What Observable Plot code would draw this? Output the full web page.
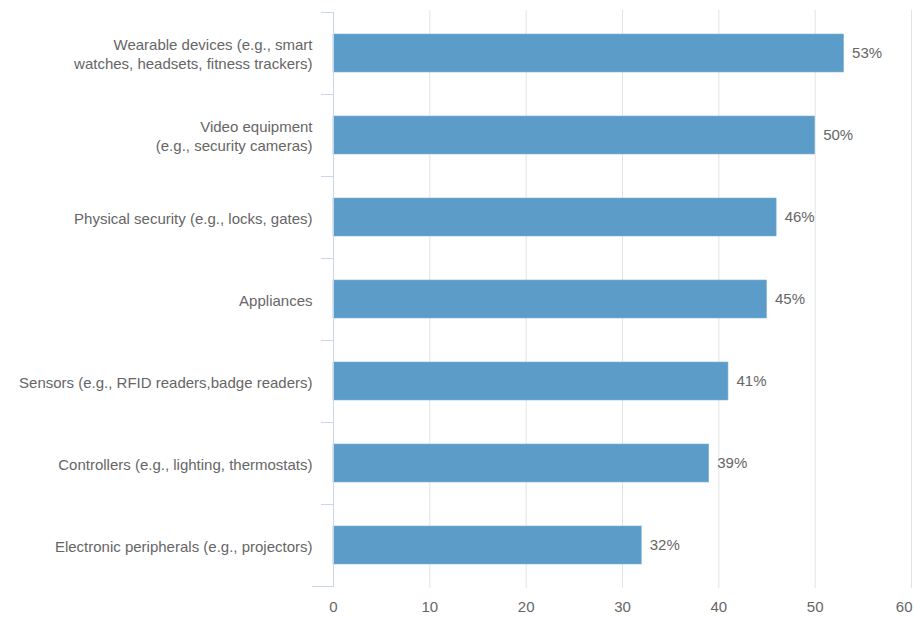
<!DOCTYPE html>
<html>
<head>
<meta charset="utf-8">
<script src="https://cdn.jsdelivr.net/npm/d3@7"></script>
<script src="https://cdn.jsdelivr.net/npm/@observablehq/plot@0.6"></script>
<style>
  html, body { margin: 0; padding: 0; background: #fff; }
  #chart { width: 914px; height: 617px; }
  svg { font-family: "Liberation Sans", Arial, sans-serif; }
</style>
</head>
<body>
<div id="chart"></div>
<script>
const categories = [
  "Wearable devices (e.g., smart\nwatches, headsets, fitness trackers)",
  "Video equipment\n(e.g., security cameras)",
  "Physical security (e.g., locks, gates)",
  "Appliances",
  "Sensors (e.g., RFID readers,badge readers)",
  "Controllers (e.g., lighting, thermostats)",
  "Electronic peripherals (e.g., projectors)"
];
const values = [53, 50, 46, 45, 41, 39, 32];
const xTicks = [0, 10, 20, 30, 40, 50, 60];

const data = categories.map((c, i) => ({category: c, value: values[i]}));

// Tick marks between categories (band boundaries), drawn from the band scale
function bandBoundaryTicks() {
  return (index, scales, values, dimensions) => {
    const y = scales.y;
    const dom = categories;
    const bw = typeof y.bandwidth === "function" ? y.bandwidth() : 0;
    const step = dom.length > 1 ? y(dom[1]) - y(dom[0]) : bw;
    const gap = (step - bw) / 2;
    const ys = dom.map(d => y(d) - gap);
    ys.push(y(dom[dom.length - 1]) + bw + gap);
    const x0 = dimensions.marginLeft;
    const g = d3.create("svg:g");
    g.selectAll("line").data(ys).join("line")
      .attr("x1", (d, i) => i === ys.length - 1 ? x0 - 21 : x0 - 12).attr("x2", x0)
      .attr("y1", d => Math.round(d) + 0.5).attr("y2", d => Math.round(d) + 0.5)
      .attr("stroke", "#ccd6eb").attr("stroke-width", 1);
    g.append("line")
      .attr("x1", x0 + 0.5).attr("x2", x0 + 0.5)
      .attr("y1", Math.round(ys[0])).attr("y2", Math.round(ys[ys.length - 1]) + 1)
      .attr("stroke", "#ccd6eb").attr("stroke-width", 1);
    return g.node();
  };
}

const plot = Plot.plot({
  width: 914,
  height: 617,
  marginLeft: 333,
  marginRight: 3,
  marginTop: 10,
  marginBottom: 29,
  style: {fontFamily: "'Liberation Sans', Arial, sans-serif", fontSize: "15px", color: "#666"},
  x: {domain: [0, 60], ticks: xTicks, label: null},
  y: {domain: categories, paddingInner: 0.54, paddingOuter: 0.27, align: 0.5, label: null},
  marks: [
    Plot.ruleX(xTicks.filter(t => t > 0), {stroke: "#e3e3e3", strokeWidth: 1}),
    Plot.axisX({ticks: xTicks.slice(0, -1), tickSize: 0, tickPadding: 13, fontSize: 15, fill: "#666", tickFormat: d => String(d), label: null}),
    Plot.axisX({ticks: xTicks.slice(-1), tickSize: 0, tickPadding: 13, fontSize: 15, fill: "#666", textAnchor: "end", dx: 1, tickFormat: d => String(d), label: null}),
    Plot.axisY({tickSize: 0, tickPadding: 21, fontSize: 15, fill: "#666", lineHeight: 1.27, label: null}),
    Plot.barX(data, {x: "value", y: "category", fill: "#5b9cc9", stroke: "#7fb2d6", strokeWidth: 0.6}),
    Plot.text(data, {x: "value", y: "category", text: d => d.value + "%", textAnchor: "start", dx: 8, fill: "#666", fontSize: 15}),
    bandBoundaryTicks()
  ]
});
document.getElementById("chart").appendChild(plot);
</script>
</body>
</html>
